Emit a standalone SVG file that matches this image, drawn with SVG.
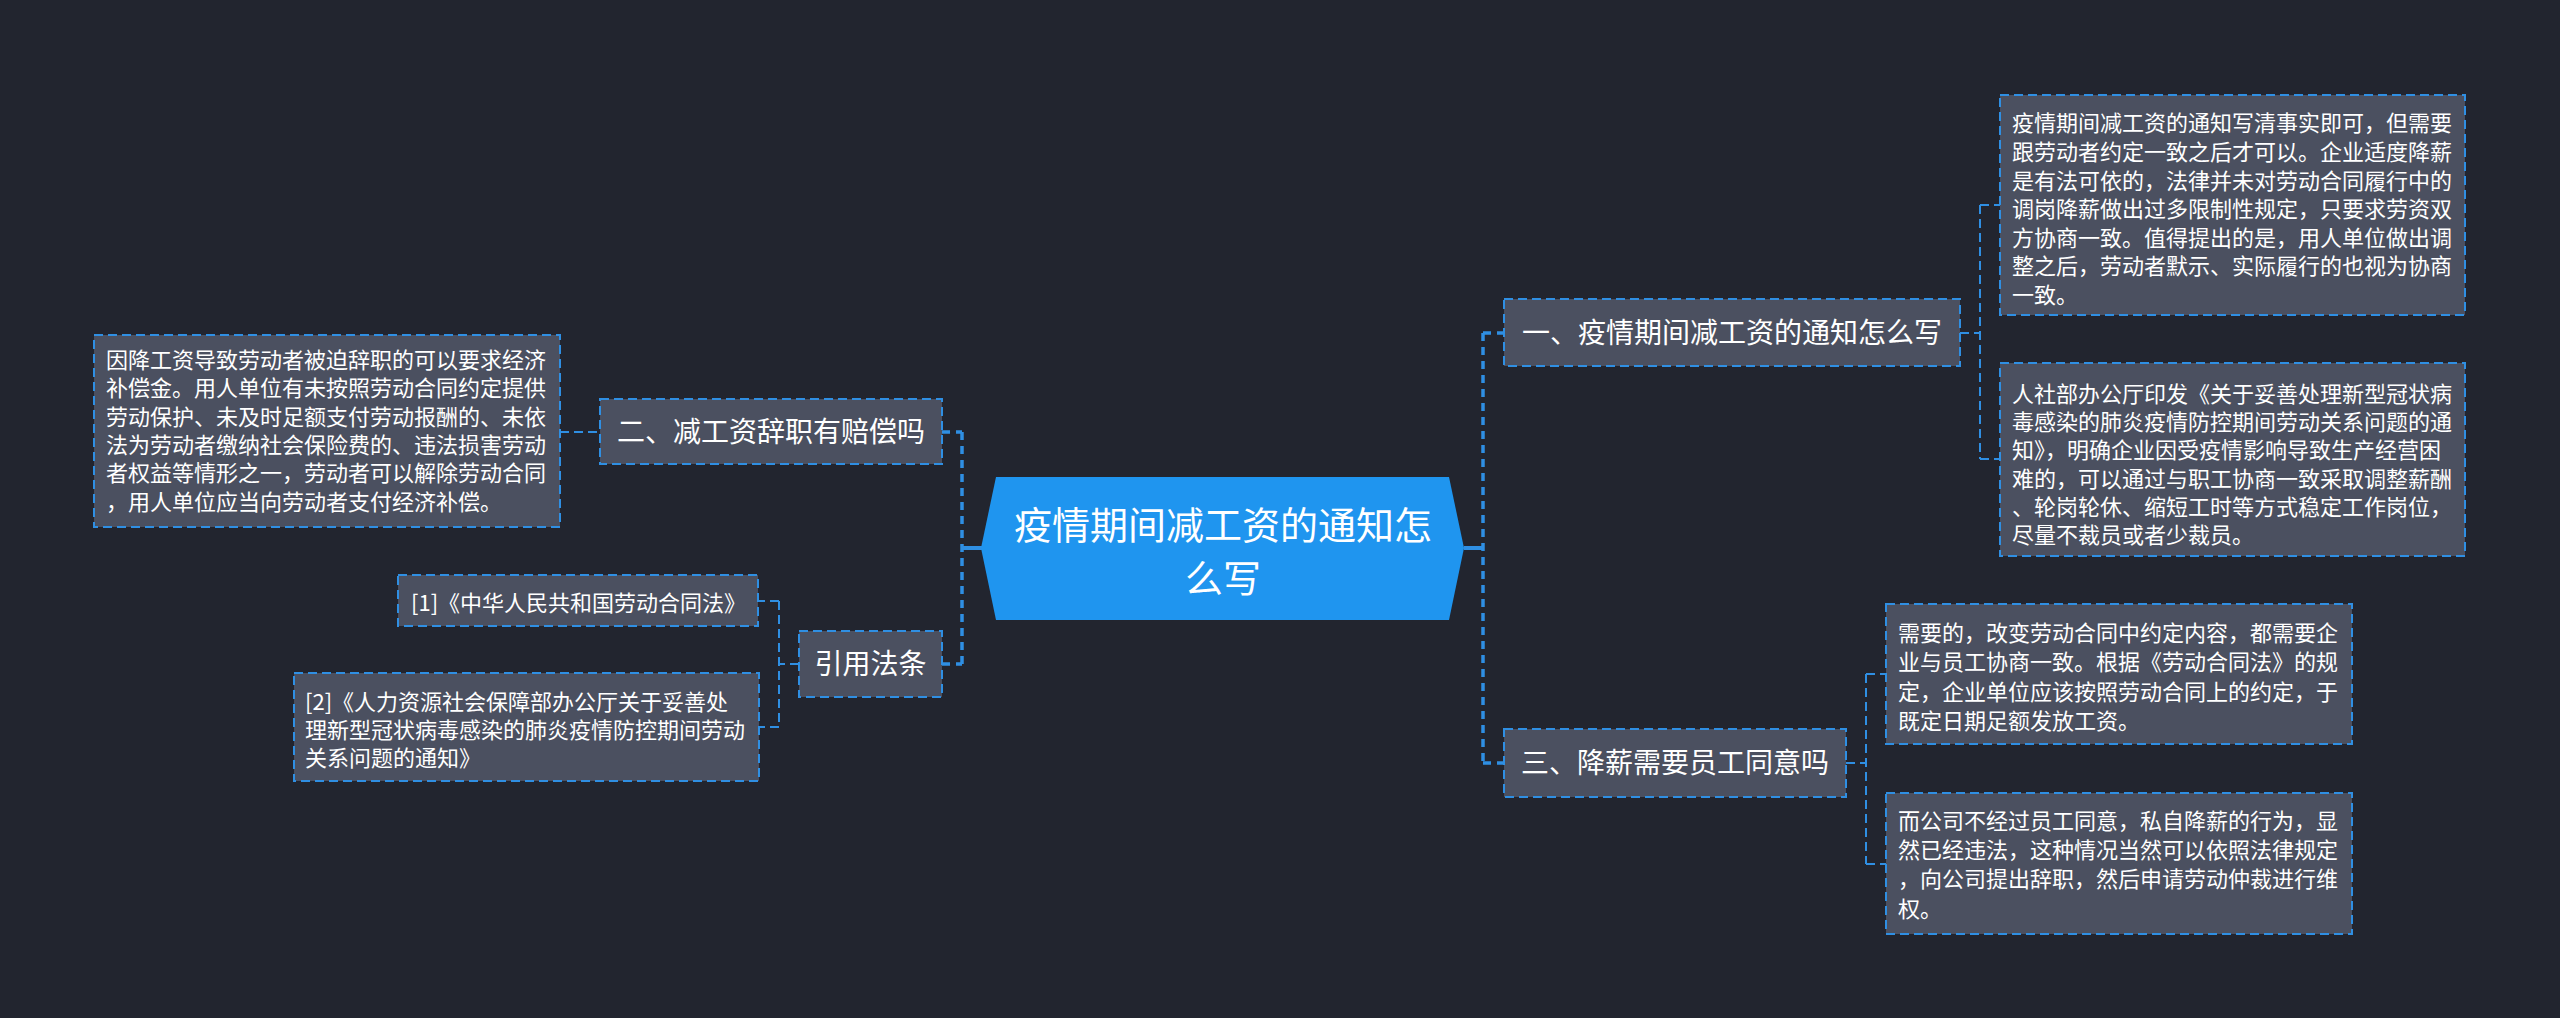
<svg xmlns="http://www.w3.org/2000/svg" width="2560" height="1018" viewBox="0 0 2560 1018">
<style>
text{font-family:"Noto Sans CJK SC","Noto Sans",sans-serif;fill:#ffffff}
.leaf{font-size:22px}
.l1{font-size:28px}
.box{fill:#4b5060;stroke:#2f8fe3;stroke-width:2;stroke-dasharray:9 5}
.trunk{fill:none;stroke:#2f8fe3;stroke-width:3.5;stroke-dasharray:8 6}
.sub{fill:none;stroke:#2f8fe3;stroke-width:2;stroke-dasharray:9 5}
.stub{fill:none;stroke:#2f8fe3;stroke-width:4}
</style>
<rect x="0" y="0" width="2560" height="1018" fill="#22252f"/>
<g id="connectors">
<line class="stub" x1="962" y1="548" x2="982" y2="548"/>
<line class="stub" x1="1464" y1="548" x2="1483" y2="548"/>
<path class="trunk" d="M962 432 V664 M942 432 H962 M942 664 H962"/>
<path class="trunk" d="M1483 333 V763 M1483 333 H1504 M1483 763 H1504"/>
<path class="sub" d="M560 432 H600"/>
<path class="sub" d="M799 664 H779 M779 601 V727 M779 601 H758 M779 727 H759"/>
<path class="sub" d="M1960 333 H1980 M1980 205 V459 M1980 205 H2000 M1980 459 H2000"/>
<path class="sub" d="M1846 763 H1866 M1866 674 V864 M1866 674 H1886 M1866 864 H1886"/>
</g>
<g id="center">
<polygon points="996,477 1449,477 1464,548 1449,620 996,620 981,548" fill="#1f95ef"/>
<text x="1223" y="539" font-size="38" text-anchor="middle">疫情期间减工资的通知怎</text>
<text x="1223" y="592" font-size="38" text-anchor="middle">么写</text>
</g>
<g id="n1">
<rect class="box" x="1504" y="299" width="456" height="67"/>
<text class="l1" x="1732" y="343" text-anchor="middle">一、疫情期间减工资的通知怎么写</text>
</g>
<g id="n3">
<rect class="box" x="1504" y="729" width="342" height="68"/>
<text class="l1" x="1675" y="773" text-anchor="middle">三、降薪需要员工同意吗</text>
</g>
<g id="n2">
<rect class="box" x="600" y="399" width="342" height="65"/>
<text class="l1" x="771" y="442" text-anchor="middle">二、减工资辞职有赔偿吗</text>
</g>
<g id="n4">
<rect class="box" x="799" y="631" width="143" height="66"/>
<text class="l1" x="870.5" y="674" text-anchor="middle">引用法条</text>
</g>
<g id="r1">
<rect class="box" x="2000" y="95" width="465" height="220"/>
<text class="leaf" x="2012" y="131">疫情期间减工资的通知写清事实即可，但需要</text>
<text class="leaf" x="2012" y="160">跟劳动者约定一致之后才可以。企业适度降薪</text>
<text class="leaf" x="2012" y="188.5">是有法可依的，法律并未对劳动合同履行中的</text>
<text class="leaf" x="2012" y="217">调岗降薪做出过多限制性规定，只要求劳资双</text>
<text class="leaf" x="2012" y="245.5">方协商一致。值得提出的是，用人单位做出调</text>
<text class="leaf" x="2012" y="274">整之后，劳动者默示、实际履行的也视为协商</text>
<text class="leaf" x="2012" y="302.5">一致。</text>
</g>
<g id="r2">
<rect class="box" x="2000" y="363" width="465" height="193"/>
<text class="leaf" x="2012" y="401.5">人社部办公厅印发《关于妥善处理新型冠状病</text>
<text class="leaf" x="2012" y="430">毒感染的肺炎疫情防控期间劳动关系问题的通</text>
<text class="leaf" x="2012" y="458">知》，明确企业因受疫情影响导致生产经营困</text>
<text class="leaf" x="2012" y="486.5">难的，可以通过与职工协商一致采取调整薪酬</text>
<text class="leaf" x="2012" y="515">、轮岗轮休、缩短工时等方式稳定工作岗位，</text>
<text class="leaf" x="2012" y="543">尽量不裁员或者少裁员。</text>
</g>
<g id="r3">
<rect class="box" x="1886" y="604" width="466" height="140"/>
<text class="leaf" x="1898" y="641">需要的，改变劳动合同中约定内容，都需要企</text>
<text class="leaf" x="1898" y="670.3">业与员工协商一致。根据《劳动合同法》的规</text>
<text class="leaf" x="1898" y="699.6">定，企业单位应该按照劳动合同上的约定，于</text>
<text class="leaf" x="1898" y="729">既定日期足额发放工资。</text>
</g>
<g id="r4">
<rect class="box" x="1886" y="793" width="466" height="141"/>
<text class="leaf" x="1898" y="828.7">而公司不经过员工同意，私自降薪的行为，显</text>
<text class="leaf" x="1898" y="858">然已经违法，这种情况当然可以依照法律规定</text>
<text class="leaf" x="1898" y="887.3">，向公司提出辞职，然后申请劳动仲裁进行维</text>
<text class="leaf" x="1898" y="916.5">权。</text>
</g>
<g id="l1">
<rect class="box" x="94" y="335" width="466" height="192"/>
<text class="leaf" x="106" y="368">因降工资导致劳动者被迫辞职的可以要求经济</text>
<text class="leaf" x="106" y="396.3">补偿金。用人单位有未按照劳动合同约定提供</text>
<text class="leaf" x="106" y="424.7">劳动保护、未及时足额支付劳动报酬的、未依</text>
<text class="leaf" x="106" y="453">法为劳动者缴纳社会保险费的、违法损害劳动</text>
<text class="leaf" x="106" y="481.3">者权益等情形之一，劳动者可以解除劳动合同</text>
<text class="leaf" x="106" y="509.7">，用人单位应当向劳动者支付经济补偿。</text>
</g>
<g id="l2">
<rect class="box" x="398" y="575" width="360" height="51"/>
<text class="leaf" x="411" y="611">[1]《中华人民共和国劳动合同法》</text>
</g>
<g id="l3">
<rect class="box" x="294" y="673" width="465" height="108"/>
<text class="leaf" x="305" y="710">[2]《人力资源社会保障部办公厅关于妥善处</text>
<text class="leaf" x="305" y="738">理新型冠状病毒感染的肺炎疫情防控期间劳动</text>
<text class="leaf" x="305" y="766">关系问题的通知》</text>
</g>
</svg>
